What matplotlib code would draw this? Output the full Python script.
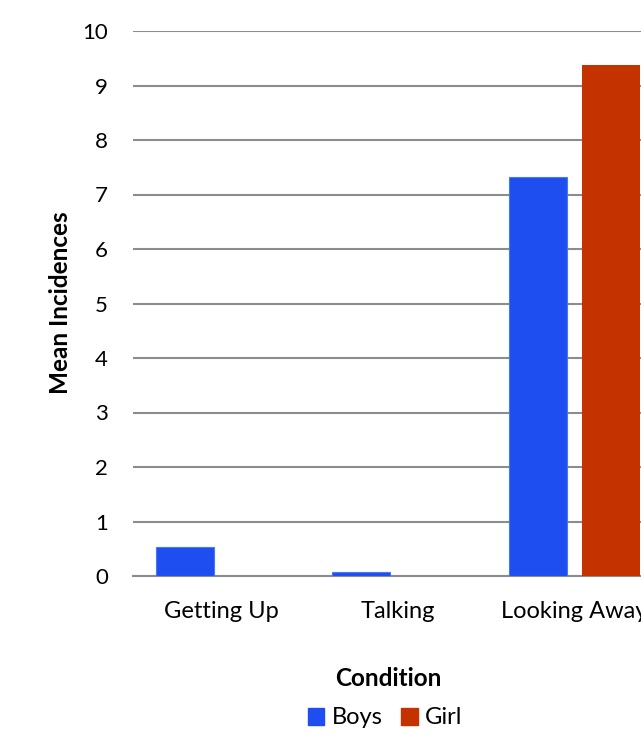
import matplotlib.pyplot as plt
import numpy as np
from matplotlib.patches import Patch

plt.rcParams['font.family'] = ['Lato', 'DejaVu Sans']

conditions = ["Getting Up", "Talking", "Looking Away"]
boys = [0.53, 0.07, 7.32]
girl = [0.0, 0.0, 9.38]
yticks = list(range(0, 11))

col_boys = '#1F4EF0'
col_girl = '#C43200'

fig = plt.figure(figsize=(6.41, 7.34), dpi=100)
W, H = 641, 734
# axes runs past the right edge of the figure (chart is cropped)
ax = fig.add_axes([133/W, (H-576)/H, (663-133)/W, (576-31)/H])

x = np.arange(len(conditions))
bw = 58/176.5
gap = 15/176.5
ax.bar(x - (bw+gap)/2, boys, width=bw, color=col_boys, edgecolor='#4a78f5', lw=0.8, zorder=3)
ax.bar(x + (bw+gap)/2, girl, width=bw, color=col_girl, lw=0, zorder=3)

ax.set_xlim(-0.5, len(conditions) - 0.5)
ax.set_ylim(0, 10)
ax.set_yticks(yticks)
ax.set_xticks(x)
ax.set_xticklabels(conditions, fontsize=17)
ax.tick_params(axis='y', length=0, labelsize=16, pad=18)
ax.tick_params(axis='x', length=0, pad=18)
ax.grid(axis='y', color='#8c8c8c', lw=1.5, zorder=0)
for s in ['top', 'right', 'left']:
    ax.spines[s].set_visible(False)
ax.spines['bottom'].set_color('#8c8c8c')
ax.spines['bottom'].set_linewidth(1.5)

fig.text(60/W, 1 - 303/H, "Mean Incidences", rotation=90, ha='center', va='center',
         fontsize=17.5, fontweight='bold')
fig.text(388/W, 1 - 679/H, "Condition", ha='center', va='center', fontsize=17.5, fontweight='bold')

handles = [Patch(color=col_boys, label='Boys'), Patch(color=col_girl, label='Girl')]
fig.legend(handles=handles, loc='center', bbox_to_anchor=(385/W, 1 - 718/H), ncol=2,
           frameon=False, fontsize=17, handlelength=0.7, handleheight=0.7,
           handletextpad=0.3, columnspacing=0.8)

fig.savefig('out.png', dpi=100)
